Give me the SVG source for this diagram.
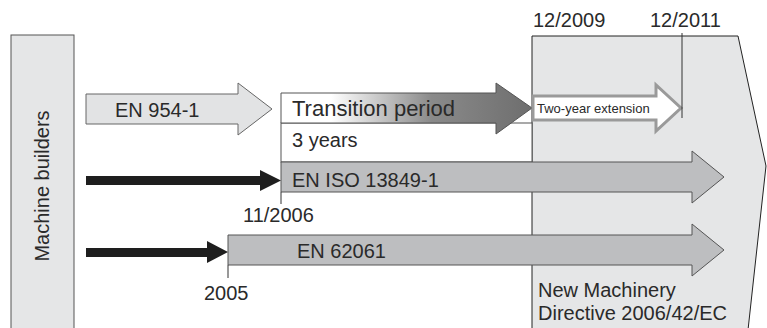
<svg xmlns="http://www.w3.org/2000/svg" width="767" height="328" viewBox="0 0 767 328">
<style>
text{font-family:"Liberation Sans",Arial,sans-serif;fill:#2a2a2a;font-size:20px}
.gray{fill:#bdbec0;stroke:#555;stroke-width:1}
.light{fill:#e5e6e7;stroke:#555;stroke-width:1}
.blk{fill:#1e1e1e}
.tick{stroke:#333;stroke-width:1;fill:none}
</style>
<defs>
<linearGradient id="tg" gradientUnits="userSpaceOnUse" x1="281" y1="0" x2="532" y2="0">
<stop offset="0" stop-color="#ffffff"/>
<stop offset="0.2" stop-color="#ffffff"/>
<stop offset="0.6" stop-color="#8a8a8a"/>
<stop offset="1" stop-color="#6e6e6e"/>
</linearGradient>
</defs>
<g id="directive">
<polygon points="532,330 532,36 738,36 766,166 748,330" fill="#e5e6e7" stroke="#222" stroke-width="1"/>
<text x="538" y="297">New Machinery</text>
<text x="538" y="320">Directive 2006/42/EC</text>
</g>
<g id="machine-builders">
<rect x="11" y="35" width="63" height="300" class="light"/>
<text transform="translate(48.5,186) rotate(-90)" text-anchor="middle">Machine builders</text>
</g>
<g id="en954">
<polygon points="86,94 238,94 238,83 272,109 238,135 238,124 86,124" fill="#e2e3e4" stroke="#666" stroke-width="1"/>
<text x="115" y="117">EN 954-1</text>
</g>
<g id="transition">
<rect x="281" y="123" width="251" height="39" fill="#fff" stroke="#555" stroke-width="1"/>
<polygon points="281,93 496,93 496,83 532,108 496,134 496,123 281,123" fill="url(#tg)" stroke="#555" stroke-width="1"/>
<text x="292" y="116" style="font-size:22px">Transition period</text>
<text x="292" y="147">3 years</text>
</g>
<g id="extension">
<polygon points="533,96 656,96 656,85 681,108 656,131 656,120 533,120" fill="#fff" stroke="#9a9a9a" stroke-width="3"/>
<text x="537" y="113" style="font-size:13px">Two-year extension</text>
</g>
<g id="en-iso-13849">
<polygon points="281,162 692,162 692,151 724,177 692,203 692,192 281,192" class="gray"/>
<text x="292" y="187">EN ISO 13849-1</text>
</g>
<g id="en-62061">
<polygon points="228,235 692,235 692,224 724,250 692,276 692,265 228,265" class="gray"/>
<text x="297" y="258">EN 62061</text>
</g>
<g id="connectors">
<polygon points="86,176 260,176 260,170 281,180.5 260,191 260,185 86,185" class="blk"/>
<polygon points="86,248 207,248 207,241 228,252 207,263 207,257 86,257" class="blk"/>
<line x1="281" y1="192" x2="281" y2="204" class="tick"/>
<line x1="228" y1="265" x2="228" y2="278" class="tick"/>
<line x1="682" y1="33" x2="682" y2="118" class="tick"/>
</g>
<g id="labels">
<text x="533" y="27">12/2009</text>
<text x="650" y="27">12/2011</text>
<text x="243" y="222">11/2006</text>
<text x="204" y="300">2005</text>
</g>
</svg>
